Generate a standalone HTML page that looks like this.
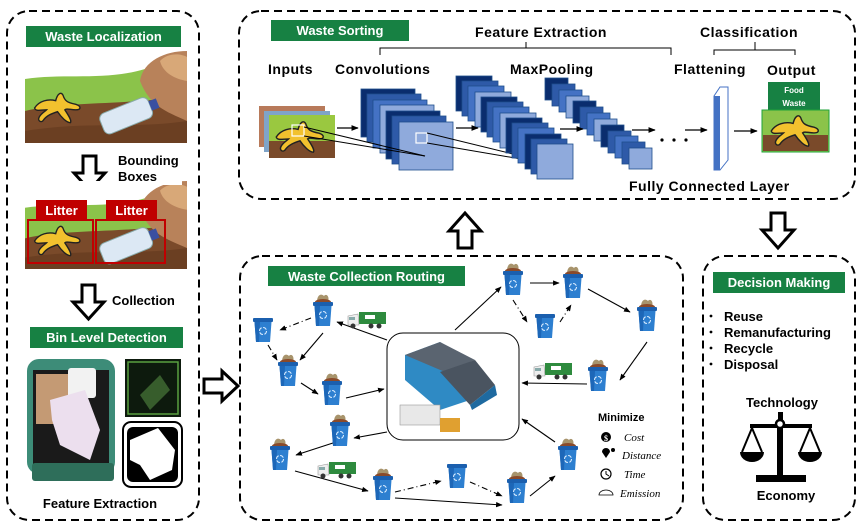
<!DOCTYPE html>
<html><head><meta charset="utf-8"><style>
html,body{margin:0;padding:0;background:#fff;}
svg{display:block;font-family:"Liberation Sans",Arial,sans-serif;}
.t{font-weight:bold;fill:#000;}
.g{font-weight:bold;fill:#fff;font-size:13px;}
</style></head><body>
<svg width="865" height="532" viewBox="0 0 865 532" xmlns="http://www.w3.org/2000/svg">
<defs>
<marker id="ah" viewBox="0 0 10 10" refX="9" refY="5" markerWidth="6" markerHeight="6" orient="auto"><path d="M0,1 L10,5 L0,9 z" fill="#000"/></marker>
<symbol id="bin" viewBox="0 0 22 28">
<rect x="1" y="3" width="20" height="4" rx="1" fill="#1b5fae"/>
<path d="M2.5,7 L19.5,7 L18,27 L4,27 z" fill="#2d7fd0"/>
<path d="M2.5,7 L8,7 L7,27 L4,27 z" fill="#1d67b8"/>
<circle cx="11" cy="16" r="3.5" fill="none" stroke="#d9ecff" stroke-width="1.1" stroke-dasharray="4 1.5"/>
</symbol>
<symbol id="fbin" viewBox="0 0 22 34">
<path d="M5,9 C5,2 9,0 12,3 C14,0 18,3 16,9 z" fill="#a8946c"/>
<ellipse cx="11" cy="9" rx="8" ry="3" fill="#8a4a2a"/>
<rect x="1" y="9" width="20" height="4" rx="1" fill="#1b5fae"/>
<path d="M2.5,13 L19.5,13 L18,33 L4,33 z" fill="#2d7fd0"/>
<path d="M2.5,13 L8,13 L7,33 L4,33 z" fill="#1d67b8"/>
<circle cx="11" cy="22" r="3.5" fill="none" stroke="#d9ecff" stroke-width="1.1" stroke-dasharray="4 1.5"/>
</symbol>
<symbol id="truck" viewBox="0 0 40 20">
<rect x="12" y="2" width="27" height="12" fill="#2e8b3e"/>
<rect x="18" y="5" width="10" height="4" fill="#fff"/>
<path d="M1,6 L11,4 L12,15 L1,15 z" fill="#eee" stroke="#999" stroke-width="0.6"/>
<rect x="2" y="7" width="6" height="3" fill="#8aa"/>
<circle cx="6" cy="16" r="2.5" fill="#333"/><circle cx="24" cy="16" r="2.5" fill="#333"/><circle cx="32" cy="16" r="2.5" fill="#333"/>
</symbol>
<symbol id="banana" viewBox="0 0 60 40">
<path d="M5,20 C10,12 20,10 28,12 C30,4 34,2 36,6 C38,12 40,14 50,16 C56,18 56,22 50,22 C44,22 40,20 38,22 C42,28 46,34 44,36 C40,36 34,30 30,24 C24,26 18,28 14,34 C12,36 8,34 10,30 C12,26 16,24 18,22 C12,22 6,24 5,20 z" fill="#f2c12e" stroke="#222" stroke-width="1.5"/>
</symbol>
<symbol id="scene" viewBox="0 0 162 92" preserveAspectRatio="none">
<rect x="0" y="0" width="162" height="92" fill="#fff"/>
<path d="M0,28 C40,22 80,30 120,18 L162,20 L162,92 L0,92 z" fill="#8bc34a"/>
<path d="M0,60 C40,50 90,55 162,45 L162,92 L0,92 z" fill="#7a4a2a"/>
<path d="M0,80 C60,70 110,78 162,70 L162,92 L0,92 z" fill="#6b3f22"/>
<path d="M115,30 C118,10 140,0 162,0 L162,70 C140,60 125,55 115,30 z" fill="#b8825a"/>
<path d="M135,10 C142,2 155,2 162,6 L162,30 C150,28 138,22 135,10 z" fill="#d8a878"/>
</symbol>
</defs>

<!-- Panels -->
<g fill="none" stroke="#000" stroke-width="2" stroke-dasharray="8 5">
<rect x="7" y="11" width="192" height="509" rx="22"/>
<rect x="239" y="11" width="616" height="188" rx="22"/>
<rect x="240" y="256" width="443" height="264" rx="22"/>
<rect x="703" y="256" width="152" height="264" rx="22"/>
</g>

<!-- Left panel -->
<rect x="26" y="26" width="155" height="21" fill="#178143"/>
<text x="103.5" y="41" class="g" text-anchor="middle">Waste Localization</text>
<use href="#scene" x="25" y="51" width="162" height="92"/>
<use href="#banana" x="30" y="88" width="55" height="40"/>
<g transform="rotate(-22 128 115)"><rect x="100" y="104" width="52" height="22" rx="6" fill="#dce8f4" stroke="#8aa" stroke-width="1"/><rect x="152" y="110" width="8" height="10" fill="#3a4fa0"/></g>
<path d="M83,156 L96,156 L96,173 L105,173 L89.5,190 L74,173 L83,173 z" fill="#fff" stroke="#000" stroke-width="3"/>
<use href="#scene" x="25" y="181" width="162" height="88"/>
<rect x="112" y="150" width="70" height="35" fill="#fff"/>
<text x="118" y="165" class="t" font-size="13">Bounding</text>
<text x="118" y="181" class="t" font-size="13">Boxes</text>
<use href="#banana" x="30" y="222" width="55" height="38"/>
<g transform="rotate(-22 128 245)"><rect x="100" y="234" width="52" height="22" rx="6" fill="#dce8f4" stroke="#8aa" stroke-width="1"/><rect x="152" y="240" width="8" height="10" fill="#3a4fa0"/></g>
<rect x="28" y="220" width="65" height="43" fill="none" stroke="#c00000" stroke-width="2"/>
<rect x="96" y="220" width="69" height="43" fill="none" stroke="#c00000" stroke-width="2"/>
<rect x="36" y="200" width="51" height="20" fill="#c00000"/>
<text x="61.5" y="215" class="g" text-anchor="middle">Litter</text>
<rect x="106" y="200" width="51" height="20" fill="#c00000"/>
<text x="131.5" y="215" class="g" text-anchor="middle">Litter</text>
<path d="M82,285 L95,285 L95,302 L104,302 L88.5,319 L73,302 L82,302 z" fill="#fff" stroke="#000" stroke-width="3"/>
<text x="112" y="305" class="t" font-size="13">Collection</text>
<rect x="30" y="327" width="153" height="21" fill="#178143"/>
<text x="106.5" y="342" class="g" text-anchor="middle">Bin Level Detection</text>
<!-- bin photo -->
<rect x="27" y="359" width="88" height="115" rx="12" fill="#3d8c78"/>
<rect x="33" y="370" width="76" height="95" fill="#1a1a1a"/>
<rect x="36" y="374" width="40" height="50" fill="#c49a74"/>
<rect x="68" y="368" width="28" height="30" rx="3" fill="#f2f2f2"/>
<path d="M50,400 L85,390 L100,430 L90,460 L60,445 L52,420 z" fill="#ecdfee"/>
<rect x="32" y="463" width="82" height="18" rx="3" fill="#2e6e5a"/>
<rect x="125" y="359" width="56" height="58" fill="#0d1a0d"/>
<rect x="128" y="362" width="50" height="52" fill="none" stroke="#5aa040" stroke-width="1.5"/>
<path d="M140,395 L160,375 L170,390 L150,410 z" fill="#4a7a3a" opacity="0.7"/>
<rect x="123" y="422" width="59" height="65" rx="8" fill="#fff" stroke="#000" stroke-width="2"/>
<rect x="127" y="427" width="51" height="55" rx="6" fill="#000"/>
<path d="M130,440 L158,428 L175,450 L172,470 L150,480 L140,465 L130,460 z" fill="#fff"/>
<text x="100" y="508" class="t" font-size="13" text-anchor="middle">Feature Extraction</text>

<!-- right arrow -->
<path d="M204,379 L222,379 L222,371 L238,386 L222,401 L222,393 L204,393 z" fill="#fff" stroke="#000" stroke-width="3"/>

<!-- Top panel -->
<rect x="271" y="20" width="138" height="21" fill="#178143"/>
<text x="340" y="35" class="g" text-anchor="middle">Waste Sorting</text>
<text x="541" y="37" class="t" font-size="14" text-anchor="middle" letter-spacing="0.5">Feature Extraction</text>
<text x="749" y="37" class="t" font-size="14" text-anchor="middle" letter-spacing="0.5">Classification</text>
<path d="M380,55 L380,48 L671,48 L671,55 M526,48 L526,42" fill="none" stroke="#000" stroke-width="1"/>
<path d="M714,55 L714,50 L795,50 L795,55 M755,50 L755,42" fill="none" stroke="#000" stroke-width="1"/>
<g class="t" font-size="14" letter-spacing="0.5">
<text x="268" y="74">Inputs</text>
<text x="335" y="74">Convolutions</text>
<text x="510" y="74">MaxPooling</text>
<text x="674" y="74">Flattening</text>
<text x="767" y="75">Output</text>
<text x="629" y="191">Fully Connected Layer</text>
</g>
<!-- inputs -->
<rect x="259" y="106" width="66" height="41" fill="#b87a5a"/>
<rect x="264" y="111" width="66" height="41" fill="#7fa4c8"/>
<rect x="269" y="115" width="66" height="43" fill="#9ac840"/>
<rect x="269" y="141" width="66" height="17" fill="#7a4a2a"/>
<use href="#banana" x="270" y="118" width="60" height="38"/>
<rect x="292" y="125" width="12" height="11" fill="none" stroke="#fff" stroke-width="1.2"/>
<!-- conv stack -->
<g stroke="#1f4e8c" stroke-width="0.8">
<rect x="361" y="89" width="54" height="48" fill="#0a2d6e"/>
<rect x="367" y="94" width="54" height="48" fill="#2e5aa8"/>
<rect x="373" y="100" width="54" height="48" fill="#4472c4"/>
<rect x="380" y="105" width="54" height="48" fill="#8faadc"/>
<rect x="386" y="111" width="54" height="48" fill="#0a2d6e"/>
<rect x="392" y="116" width="54" height="48" fill="#2e5aa8"/>
<rect x="399" y="122" width="54" height="48" fill="#8faadc"/>
</g>
<rect x="416" y="133" width="11" height="10" fill="none" stroke="#fff" stroke-width="1.2"/>
<g stroke="#000" stroke-width="1" fill="none">
<line x1="304" y1="127" x2="425" y2="156"/><line x1="304" y1="136" x2="425" y2="156"/>
<line x1="427" y1="133" x2="562" y2="166"/><line x1="427" y1="143" x2="562" y2="166"/>
</g>
<!-- stack2 -->
<g stroke="#1f4e8c" stroke-width="0.8">
<rect x="456" y="76" width="36" height="35" fill="#0a2d6e"/>
<rect x="462" y="81" width="36" height="35" fill="#2e5aa8"/>
<rect x="468" y="86" width="36" height="35" fill="#4472c4"/>
<rect x="475" y="92" width="36" height="35" fill="#8faadc"/>
<rect x="481" y="97" width="36" height="35" fill="#0a2d6e"/>
<rect x="487" y="102" width="36" height="35" fill="#2e5aa8"/>
<rect x="493" y="107" width="36" height="35" fill="#4472c4"/>
<rect x="500" y="113" width="36" height="35" fill="#8faadc"/>
<rect x="506" y="118" width="36" height="35" fill="#0a2d6e"/>
<rect x="512" y="123" width="36" height="35" fill="#2e5aa8"/>
<rect x="518" y="128" width="36" height="35" fill="#4472c4"/>
<rect x="525" y="134" width="36" height="35" fill="#0a2d6e"/>
<rect x="531" y="139" width="36" height="35" fill="#2e5aa8"/>
<rect x="537" y="144" width="36" height="35" fill="#8faadc"/>
</g>
<!-- stack3 -->
<g stroke="#1f4e8c" stroke-width="0.8">
<rect x="545" y="78" width="23" height="22" fill="#0a2d6e"/>
<rect x="552" y="84" width="23" height="22" fill="#2e5aa8"/>
<rect x="559" y="90" width="23" height="22" fill="#4472c4"/>
<rect x="566" y="96" width="23" height="22" fill="#8faadc"/>
<rect x="573" y="101" width="23" height="22" fill="#0a2d6e"/>
<rect x="580" y="107" width="23" height="22" fill="#2e5aa8"/>
<rect x="587" y="113" width="23" height="22" fill="#4472c4"/>
<rect x="594" y="119" width="23" height="22" fill="#8faadc"/>
<rect x="601" y="125" width="23" height="22" fill="#0a2d6e"/>
<rect x="608" y="131" width="23" height="22" fill="#2e5aa8"/>
<rect x="615" y="136" width="23" height="22" fill="#4472c4"/>
<rect x="622" y="142" width="23" height="22" fill="#2e5aa8"/>
<rect x="629" y="148" width="23" height="21" fill="#8faadc"/>
</g>
<g stroke="#000" stroke-width="1.2" marker-end="url(#ah)">
<line x1="337" y1="128" x2="358" y2="128"/>
<line x1="456" y1="128" x2="478" y2="128"/>
<line x1="560" y1="129" x2="583" y2="129"/>
<line x1="632" y1="130" x2="655" y2="130"/>
<line x1="685" y1="130" x2="707" y2="130"/>
<line x1="734" y1="131" x2="757" y2="131"/>
</g>
<circle cx="662" cy="140" r="1.6"/><circle cx="674" cy="140" r="1.6"/><circle cx="686" cy="140" r="1.6"/>
<path d="M714,96 L720,87 L728,87 L728,160 L720,170 L714,170 z" fill="#fff" stroke="#4472c4" stroke-width="1"/>
<rect x="714" y="96" width="6" height="74" fill="#4472c4"/>
<rect x="768" y="82" width="52" height="28" fill="#178143"/>
<text x="794" y="93" font-size="8" font-weight="bold" fill="#fff" text-anchor="middle">Food</text>
<text x="794" y="106" font-size="8" font-weight="bold" fill="#fff" text-anchor="middle">Waste</text>
<rect x="762" y="110" width="67" height="42" fill="#8bc34a" stroke="#1fa33a" stroke-width="1"/>
<rect x="763" y="135" width="65" height="16" fill="#7a4a2a"/>
<use href="#banana" x="766" y="112" width="58" height="38"/>

<!-- up/down arrows -->
<path d="M458,248 L472,248 L472,231 L481,231 L465,213 L449,231 L458,231 z" fill="#fff" stroke="#000" stroke-width="3"/>
<path d="M771,213 L785,213 L785,230 L794,230 L778,248 L762,230 L771,230 z" fill="#fff" stroke="#000" stroke-width="3"/>

<!-- Middle panel -->
<rect x="268" y="266" width="197" height="20" fill="#178143"/>
<text x="366.5" y="281" class="g" text-anchor="middle">Waste Collection Routing</text>
<rect x="387" y="333" width="132" height="107" rx="16" fill="#fff" stroke="#000" stroke-width="1"/>
<path d="M405,355 L440,342 L470,360 L470,400 L440,410 L405,380 z" fill="#2f8ac4"/>
<path d="M405,355 L440,342 L475,360 L445,372 z" fill="#5a6470"/>
<path d="M440,372 L475,360 L495,385 L470,405 z" fill="#4a5460"/>
<path d="M470,405 L495,385 L497,395 L472,410 z" fill="#1e6aa0"/>
<rect x="400" y="405" width="40" height="20" fill="#e8e8e8" stroke="#999" stroke-width="0.6"/>
<rect x="440" y="418" width="20" height="14" fill="#e0a030"/>
<g stroke="#000" stroke-width="1.1" fill="none" marker-end="url(#ah)">
<line x1="387" y1="340" x2="337" y2="322"/>
<line x1="323" y1="333" x2="300" y2="360"/>
<line x1="301" y1="383" x2="318" y2="394"/>
<line x1="346" y1="398" x2="384" y2="389"/>
<line x1="387" y1="432" x2="354" y2="438"/>
<line x1="336" y1="442" x2="296" y2="455"/>
<line x1="295" y1="471" x2="368" y2="491"/>
<line x1="395" y1="498" x2="502" y2="505"/>
<line x1="530" y1="496" x2="555" y2="476"/>
<line x1="555" y1="442" x2="522" y2="419"/>
<line x1="455" y1="330" x2="501" y2="287"/>
<line x1="530" y1="283" x2="559" y2="283"/>
<line x1="588" y1="289" x2="630" y2="312"/>
<line x1="647" y1="342" x2="620" y2="380"/>
<line x1="587" y1="384" x2="522" y2="383"/>
</g>
<g stroke="#000" stroke-width="1.1" fill="none" stroke-dasharray="6 3 1 3" marker-end="url(#ah)">
<line x1="311" y1="318" x2="280" y2="330"/>
<line x1="268" y1="345" x2="277" y2="360"/>
<line x1="513" y1="300" x2="527" y2="322"/>
<line x1="560" y1="322" x2="571" y2="305"/>
<line x1="395" y1="492" x2="441" y2="481"/>
<line x1="470" y1="482" x2="502" y2="496"/>
</g>
<use href="#bin" x="252" y="315" width="22" height="28"/>
<use href="#fbin" x="312" y="293" width="22" height="34"/>
<use href="#fbin" x="277" y="353" width="22" height="34"/>
<use href="#fbin" x="321" y="372" width="22" height="34"/>
<use href="#fbin" x="329" y="413" width="22" height="34"/>
<use href="#fbin" x="269" y="437" width="22" height="34"/>
<use href="#fbin" x="372" y="467" width="22" height="34"/>
<use href="#bin" x="446" y="461" width="22" height="28"/>
<use href="#fbin" x="506" y="470" width="22" height="34"/>
<use href="#fbin" x="557" y="437" width="22" height="34"/>
<use href="#fbin" x="502" y="262" width="22" height="34"/>
<use href="#bin" x="534" y="311" width="22" height="28"/>
<use href="#fbin" x="562" y="265" width="22" height="34"/>
<use href="#fbin" x="636" y="298" width="22" height="34"/>
<use href="#fbin" x="587" y="358" width="22" height="34"/>
<use href="#truck" x="347" y="310" width="40" height="20"/>
<use href="#truck" x="533" y="361" width="40" height="20"/>
<use href="#truck" x="317" y="460" width="40" height="20"/>
<text x="598" y="421" class="t" font-size="11">Minimize</text>
<g font-family="'Liberation Serif',serif" font-style="italic" font-size="11" fill="#000">
<circle cx="606" cy="437" r="5"/><text x="606" y="441" fill="#fff" font-size="8" font-style="normal" text-anchor="middle" font-weight="bold">$</text>
<text x="624" y="441">Cost</text>
<path d="M602,452 a4,4 0 1,1 8,0 l-4,6 z" fill="#000"/><circle cx="613" cy="450" r="2"/>
<text x="622" y="459">Distance</text>
<circle cx="606" cy="474" r="5" fill="none" stroke="#000" stroke-width="1.2"/><path d="M606,471 L606,474 L609,476" stroke="#000" fill="none"/>
<text x="624" y="478">Time</text>
<path d="M599,495 a7,5 0 0,1 14,0 z" fill="none" stroke="#000" stroke-width="0.8"/>
<text x="620" y="497">Emission</text>
</g>

<!-- Right panel -->
<rect x="713" y="272" width="132" height="21" fill="#178143"/>
<text x="779" y="287" class="g" text-anchor="middle">Decision Making</text>
<g class="t" font-size="13">
<text x="724" y="321">Reuse</text>
<text x="724" y="337">Remanufacturing</text>
<text x="724" y="353">Recycle</text>
<text x="724" y="369">Disposal</text>
<text x="782" y="407" text-anchor="middle">Technology</text>
<text x="786" y="500" text-anchor="middle">Economy</text>
</g>
<g fill="#000"><circle cx="711" cy="316" r="1.4"/><circle cx="711" cy="332" r="1.4"/><circle cx="711" cy="348" r="1.4"/><circle cx="711" cy="364" r="1.4"/></g>
<rect x="778" y="412" width="5" height="8" fill="#000"/>
<path d="M750,426 L812,426" stroke="#000" stroke-width="4"/>
<circle cx="780" cy="424" r="4" fill="#fff" stroke="#000" stroke-width="2.5"/>
<rect x="777" y="428" width="6" height="48" fill="#000"/>
<rect x="756" y="475" width="50" height="7" fill="#000"/>
<path d="M752,428 L742,452 M752,428 L762,452 M810,428 L800,452 M810,428 L820,452" stroke="#000" stroke-width="2"/>
<path d="M740,452 L764,452 A12,10 0 0,1 740,452 z" fill="#000"/>
<path d="M798,452 L822,452 A12,10 0 0,1 798,452 z" fill="#000"/>
</svg>
</body></html>
